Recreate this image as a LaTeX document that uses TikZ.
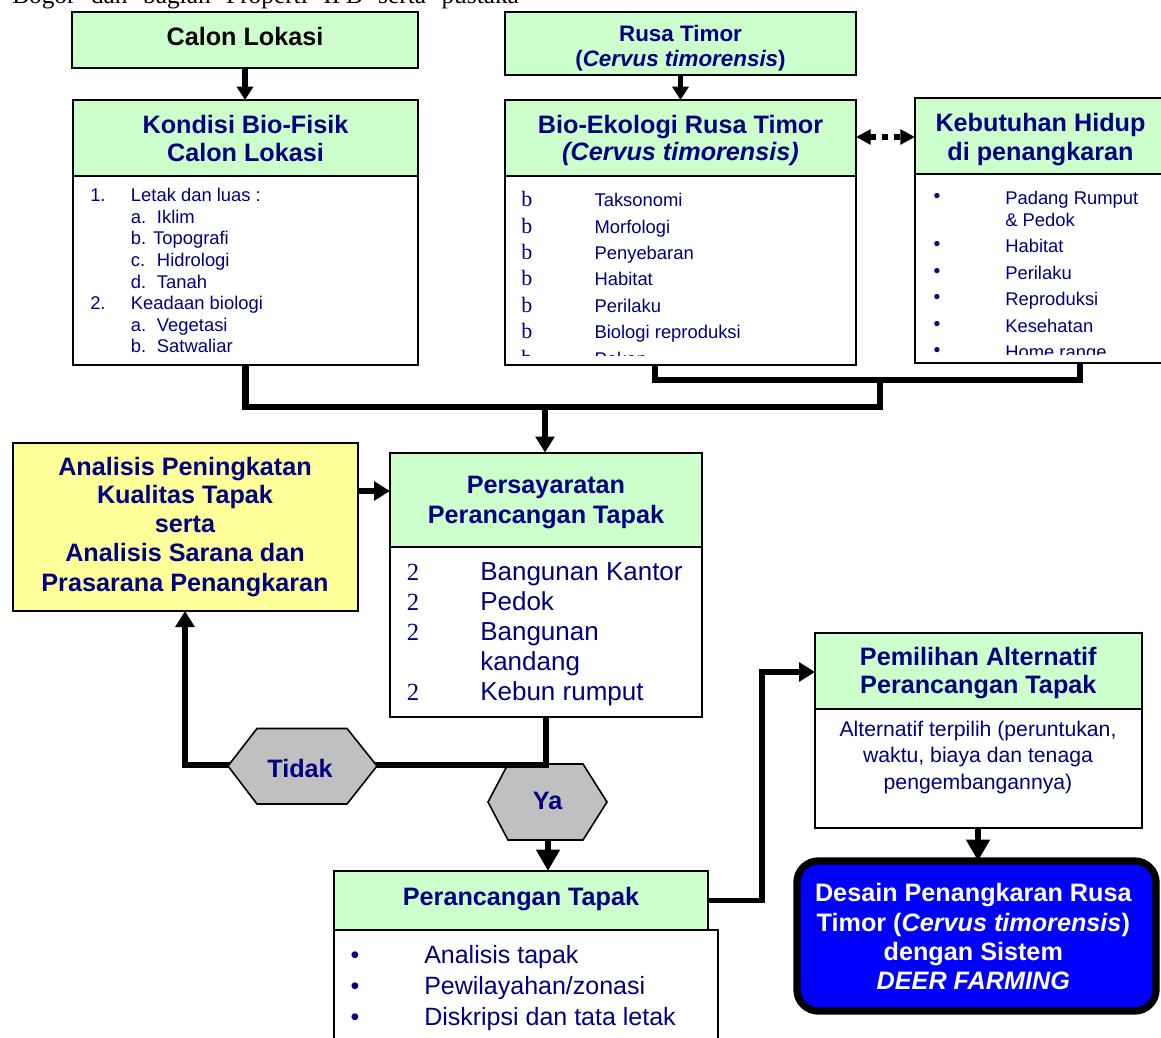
\documentclass[tikz,border=0pt]{standalone}
\usepackage{fontspec}
\setmainfont{Liberation Sans}
\newfontfamily\serifx{Liberation Serif}
\usetikzlibrary{arrows.meta}
\definecolor{navy}{RGB}{0,0,128}
\definecolor{lgreen}{RGB}{204,255,204}
\definecolor{lyellow}{RGB}{255,255,153}
\definecolor{hexgray}{RGB}{192,192,192}
\definecolor{dblue}{RGB}{0,0,255}
\newcommand\fsz[2]{\fontsize{#1}{#2}\selectfont}
\newcommand\mybox[6]{\node[#6, minimum width={(#4-#2)*0.75pt}, minimum height={(#5-#3)*0.75pt}] (#1) at ({(#2+#4)/2},{(#3+#5)/2}) {};}
\tikzset{
  hdr/.style={draw=black, line width=1.5pt, fill=lgreen, inner sep=0pt, outer sep=0pt},
  bodybox/.style={draw=black, line width=1.5pt, fill=white, inner sep=0pt, outer sep=0pt},
  ybox/.style={hdr, fill=lyellow},
  ttl/.style={text=navy, font={\fsz{18.9pt}{21pt}\bfseries}, anchor=base, inner sep=0pt},
  sttl/.style={ttl, font={\fsz{16.8pt}{20pt}\bfseries}},
  sitem/.style={text=navy, font={\fsz{13.8pt}{16pt}}, anchor=base west, inner sep=0pt},
  litem/.style={text=navy, font={\fsz{19.5pt}{22pt}}, anchor=base west, inner sep=0pt},
  pitem/.style={litem, font={\fsz{18.75pt}{22pt}}},
  mitem/.style={text=navy, font={\fsz{15.9pt}{18pt}}, anchor=base, inner sep=0pt},
  smark/.style={text=navy, font={\serifx\fsz{16.5pt}{18pt}}, anchor=base west, inner sep=0pt},
  lmark/.style={smark, font={\serifx\fsz{18.5pt}{20pt}}},
  sbul/.style={text=navy, font={\fsz{14.5pt}{16pt}}, anchor=base, inner sep=0pt},
  lbul/.style={sbul, font={\fsz{18.75pt}{20pt}}},
  conn/.style={line width=4.5pt, draw=black},
  tipS/.style={-{Triangle[width=12pt,length=10pt]}},
  tipM/.style={-{Triangle[width=14pt,length=12pt]}},
  tipL/.style={-{Triangle[width=17pt,length=16pt]}},
  hexa/.style={fill=hexgray, draw=black, line width=1.2pt},
}
\begin{document}
\begin{tikzpicture}[x=0.75pt,y=-0.75pt]
\useasboundingbox (0,0) rectangle (1161,1038);
\fill[white] (0,0) rectangle (1161,1038);

% clipped running text at the top
\node[anchor=base west, inner sep=0pt, font={\serifx\fsz{19pt}{22pt}}] (runtext) at (12,4)
  {\makebox[380pt][s]{Bogor dan bagian Properti IPB serta pustaka}};

% ---------- boxes ----------
\mybox{calon}{72}{12}{418}{68}{hdr}
\mybox{kondisiH}{73}{100}{418}{176}{hdr}
\mybox{kondisiB}{73}{176}{418}{365}{bodybox}
\mybox{rusa}{505}{12}{856}{75}{hdr}
\mybox{bioH}{505}{100}{856}{176}{hdr}
\mybox{bioB}{505}{176}{856}{365}{bodybox}
\mybox{kebH}{915}{98}{1172}{174}{hdr}
\mybox{kebB}{915}{174}{1172}{363}{bodybox}
\mybox{analisis}{12.5}{443}{357.5}{611}{ybox}
\mybox{persH}{390}{452.5}{702}{547}{hdr}
\mybox{persB}{390}{547}{702}{717}{bodybox}
\mybox{peranB}{334}{930}{718}{1060}{bodybox}
\mybox{peranH}{334}{871}{708}{930}{hdr}
\mybox{pemH}{815}{633}{1142}{709}{hdr}
\mybox{pemB}{815}{709}{1142}{828}{bodybox}
\node[draw=black, line width=5.5pt, fill=dblue, rounded corners=16pt,
      minimum width={(1156-797)*0.75pt}, minimum height={(1011-861)*0.75pt},
      inner sep=0pt, outer sep=0pt] (desain) at (976.5,936) {};

% ---------- titles ----------
\node[ttl, text=black] (tcalon) at (245,45.5) {Calon Lokasi};
\node[ttl] (tkon1) at (245.5,133.3) {Kondisi Bio-Fisik};
\node[ttl] (tkon2) at (245.5,161.7) {Calon Lokasi};
\node[sttl] (trusa1) at (680.5,41.7) {Rusa Timor};
\node[sttl] (trusa2) at (680.5,66.7) {(\textit{Cervus timorensis})};
\node[ttl] (tbio1) at (680.5,133.3) {Bio-Ekologi Rusa Timor};
\node[ttl] (tbio2) at (680.5,160.7) {\textit{(Cervus timorensis)}};
\node[ttl] (tkeb1) at (1040.5,132) {Kebutuhan Hidup};
\node[ttl] (tkeb2) at (1040.5,160.5) {di penangkaran};
\node[ttl] (tpers1) at (546,493.3) {Persayaratan};
\node[ttl] (tpers2) at (546,523) {Perancangan Tapak};
\node[ttl] (tana1) at (185,475) {Analisis Peningkatan};
\node[ttl] (tana2) at (185,503.3) {Kualitas Tapak};
\node[ttl] (tana3) at (185,532.7) {serta};
\node[ttl] (tana4) at (185,561.7) {Analisis Sarana dan};
\node[ttl] (tana5) at (185,591) {Prasarana Penangkaran};
\node[ttl] (tperan) at (521,905) {Perancangan Tapak};
\node[ttl] (tpem1) at (978.3,665) {Pemilihan Alternatif};
\node[ttl] (tpem2) at (978.3,693.3) {Perancangan Tapak};
\node[ttl, text=white] (tdes1) at (973.3,901.7) {Desain Penangkaran Rusa};
\node[ttl, text=white] (tdes2) at (973.3,931.7) {Timor (\textit{Cervus timorensis})};
\node[ttl, text=white] (tdes3) at (973.3,960.7) {dengan Sistem};
\node[ttl, text=white] (tdes4) at (973.3,989.3) {\textit{DEER FARMING}};

% ---------- Kondisi list ----------
\node[sitem] (k1n) at (90,202) {1.};
\node[sitem] (k1t) at (130.7,202) {Letak dan luas :};
\node[sitem] (k2n) at (130.7,223.5) {a.};
\node[sitem] (k2t) at (156.7,223.5) {Iklim};
\node[sitem] (k3t) at (130.7,245) {b. Topografi};
\node[sitem] (k4n) at (130.7,266.5) {c.};
\node[sitem] (k4t) at (156.7,266.5) {Hidrologi};
\node[sitem] (k5n) at (130.7,288) {d.};
\node[sitem] (k5t) at (156.7,288) {Tanah};
\node[sitem] (k6n) at (90,309.5) {2.};
\node[sitem] (k6t) at (130.7,309.5) {Keadaan biologi};
\node[sitem] (k7n) at (130.7,331) {a.};
\node[sitem] (k7t) at (156.7,331) {Vegetasi};
\node[sitem] (k8n) at (130.7,352.5) {b.};
\node[sitem] (k8t) at (156.7,352.5) {Satwaliar};

% ---------- Bio-Ekologi list (clipped) ----------
\begin{scope}
\clip (505,176) rectangle (856,355);
\foreach \t [count=\i] in {Taksonomi, Morfologi, Penyebaran, Habitat, Perilaku, Biologi reproduksi, Pakan} {
  \node[smark] (bm\i) at (521,{180.3+26.4*\i}) {b};
  \node[sitem] (bt\i) at (594.3,{180.3+26.4*\i}) {\t};
}
\end{scope}

% ---------- Kebutuhan list (clipped) ----------
\begin{scope}
\clip (915,174) rectangle (1161,354.5);
\node[sbul] (kb1) at (937,203) {•};
\node[sitem] (kt1) at (1005,205) {Padang Rumput};
\node[sitem] (kt1b) at (1005,226.5) {\& Pedok};
\node[sbul] (kb2) at (937,250.7) {•};
\node[sitem] (kt2) at (1005,252.7) {Habitat};
\node[sbul] (kb3) at (937,277.3) {•};
\node[sitem] (kt3) at (1005,279.3) {Perilaku};
\node[sbul] (kb4) at (937,303.7) {•};
\node[sitem] (kt4) at (1005,305.7) {Reproduksi};
\node[sbul] (kb5) at (937,330) {•};
\node[sitem] (kt5) at (1005,332) {Kesehatan};
\node[sbul] (kb6) at (937,356.5) {•};
\node[sitem] (kt6) at (1005,358.5) {Home range};
\end{scope}

% ---------- Persayaratan list ----------
\node[lmark] (p1n) at (406.7,580) {2};
\node[litem] (p1t) at (480,580) {Bangunan Kantor};
\node[lmark] (p2n) at (406.7,610) {2};
\node[litem] (p2t) at (480,610) {Pedok};
\node[lmark] (p3n) at (406.7,640) {2};
\node[litem] (p3t) at (480,640) {Bangunan};
\node[litem] (p3u) at (480,670) {kandang};
\node[lmark] (p4n) at (406.7,700) {2};
\node[litem] (p4t) at (480,700) {Kebun rumput};

% ---------- Perancangan list ----------
\node[lbul] (r1b) at (355,963.3) {•};
\node[pitem] (r1t) at (424,963.3) {Analisis tapak};
\node[lbul] (r2b) at (355,994.3) {•};
\node[pitem] (r2t) at (424,994.3) {Pewilayahan/zonasi};
\node[lbul] (r3b) at (355,1025) {•};
\node[pitem] (r3t) at (424,1025) {Diskripsi dan tata letak};

% ---------- Pemilihan text ----------
\node[mitem] (m1) at (978,736.7) {Alternatif terpilih (peruntukan,};
\node[mitem] (m2) at (978,762.5) {waktu, biaya dan tenaga};
\node[mitem] (m3) at (978,789.5) {pengembangannya)};

% ---------- Ya hexagon (under the loop line) ----------
\filldraw[hexa] (488,802) -- (508,764) -- (583,764) -- (607,802) -- (583,840) -- (508,840) -- cycle;
\node[ttl] (ya) at (547.7,809.3) {Ya};
\coordinate (yab) at (548,840);

% ---------- connectors ----------
\draw[conn, line width=4.2pt, tipS] (calon.south) -- (calon.south |- kondisiH.north);
\draw[conn, line width=3.8pt, tipS] (rusa.south) -- (rusa.south |- bioH.north);
\draw[conn, line width=4.2pt] (bioB.south -| 655,0) -- (655,380) -- (1080,380) -- (kebB.south -| 1080,0);
\draw[conn, line width=4.8pt] (kondisiB.south) -- (245.5,407) -- (880,407) -- (880,380);
\draw[conn, line width=4.2pt, tipM] (545,407) -- (persH.north -| 545,0);
\draw[line width=4.2pt, dash pattern=on 4.5pt off 4.5pt,
      {Triangle[width=11pt,length=11pt]}-{Triangle[width=11pt,length=11pt]}]
      (bioH.east |- 0,137) -- (kebH.west |- 0,137);
\draw[conn, line width=4pt, tipM] (analisis.east |- 0,491) -- (persH.west |- 0,491);
\draw[conn, line width=5pt, tipM] (persB.south) -- (546,765) -| (analisis.south);
\draw[conn, line width=5pt, tipL] (yab) -- (yab |- peranH.north);
\draw[conn, line width=4.2pt, tipM] (peranH.east) -| (762,672) -- (pemH.west |- 0,672);
\draw[conn, line width=5pt, tipL] (pemB.south -| 978,0) -- (desain.north -| 978,0);

% ---------- Tidak hexagon (over the loop line) ----------
\filldraw[hexa] (228,766) -- (257,728.5) -- (347,728.5) -- (377,766) -- (347,804) -- (257,804) -- cycle;
\node[ttl] (tidak) at (300,777.7) {Tidak};
\end{tikzpicture}
\end{document}
